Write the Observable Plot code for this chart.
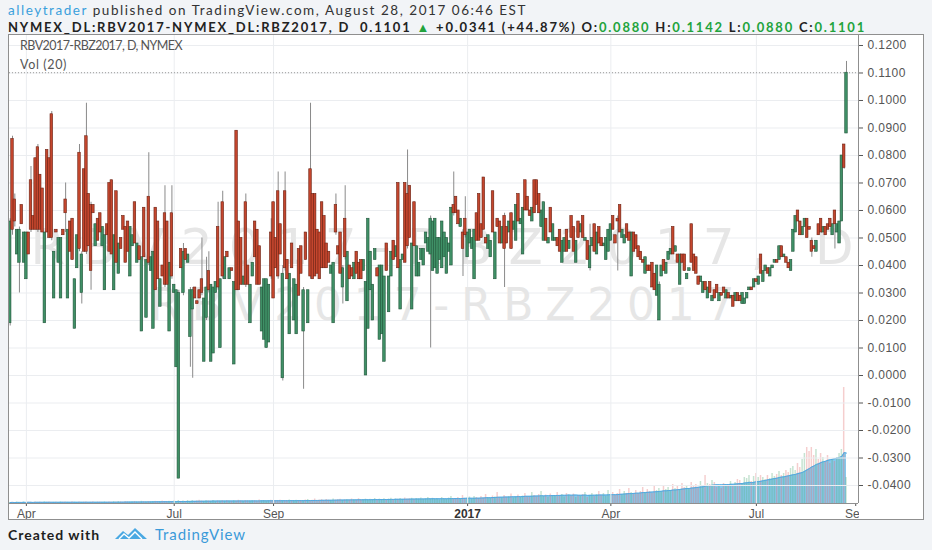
<!DOCTYPE html>
<html><head><meta charset="utf-8">
<script src="https://cdn.jsdelivr.net/npm/d3@7"></script>
<script src="https://cdn.jsdelivr.net/npm/@observablehq/plot@0.6"></script>
<style>
html,body{margin:0;padding:0}
body{width:932px;height:550px;background:#f2f4f7;position:relative;overflow:hidden;font-family:Lato,"Open Sans",sans-serif}
.abs{position:absolute;white-space:nowrap;line-height:1}
#frame{position:absolute;left:8px;top:34px;width:914px;height:484px;border:1px solid #8f8f8f;background:#fff;overflow:hidden}
#frame svg{position:absolute;left:0;top:0}
#vol{z-index:1}#main{z-index:2}
.g{color:#22a33c}
#corner{position:absolute;left:850px;top:469px;width:64px;height:15px;background:#fff;z-index:4}
.lbl{position:absolute;left:11px;color:#555;font-size:12.5px;line-height:1;white-space:nowrap;z-index:3}
g[aria-label="y-axis tick label"] text{letter-spacing:.4px}
</style></head><body>
<div id="h1" class="abs" style="left:8px;top:4px;font-size:13.5px;color:#333"><span style="color:#3aa0dc">alleytrader</span> published on TradingView.com, August 28, 2017 06:46 EST</div>
<div id="h2" class="abs" style="left:8px;top:21px;font-size:13px;font-weight:700;color:#222">NYMEX_DL:RBV2017-NYMEX_DL:RBZ2017, D&nbsp; 0.1101 <span class="g">▲</span> +0.0341 (+44.87%) O:<span class="g">0.0880</span> H:<span class="g">0.1142</span> L:<span class="g">0.0880</span> C:<span class="g">0.1101</span></div>
<div id="frame">
  <div class="lbl" id="l1" style="top:5px">RBV2017-RBZ2017, D, NYMEX</div>
  <div class="lbl" id="l2" style="top:24px">Vol (20)</div>
  <div id="corner"></div>
</div>
<div id="f1" class="abs" style="left:8px;top:528px;font-size:14px;font-weight:700;color:#1e1e1e">Created with</div>
<svg class="abs" style="left:114px;top:526px" width="34" height="16" viewBox="0 0 34 16"><path d="M1 13 L9 5 L14 9 L21 2 L33 13 Z" fill="#4aa8e2"/><path d="M5 13 L10 8 L15 12 L21 6 L28 13" fill="none" stroke="#fff" stroke-width="1.4"/></svg>
<div id="f2" class="abs" style="left:155px;top:527px;font-size:15px;color:#3b9ad9">TradingView</div>
<script>
// ---- candle values [open, close, high?, low?] ----
const spring2016 = [
[.019,.056,.057,.018],[.086,.053,.087,.051],[.064,.056,.066,.054],[.044,.053],[.041,.053,.054,.030],[.062,.055],[.041,.052],[.035,.052],[.052,.044],[.071,.053,.076,.052],
[.058,.053],[.079,.053],[.083,.053,.084,.052],[.073,.053],[.068,.052],[.019,.052],[.082,.052],[.079,.050],[.095,.050,.096,.049],[.028,.045],
[.053,.052],[.041,.050],[.028,.050],[.053,.051],[.064,.059,.070,.052],[.028,.053],[.056,.045],[.057,.042],[.017,.035],[.039,.051],
[.081,.046,.084,.045],[.030,.044,.045,.026],[.075,.045],[.087,.045,.099,.044],[.066,.047],[.062,.038,.063,.031],[.062,.059],[.047,.055],[.057,.049],[.059,.052],
[.047,.054],[.031,.051],[.055,.051]];
const summer2016 = [
[.070,.045],[.071,.044],[.031,.051],[.067,.041],[.037,.048],[.050,.046],[.058,.053],[.054,.041],[.056,.045],[.036,.054],
[.047,.051],[.063,.048],[.041,.048],[.047,.042],[.016,.043],[.061,.043],[.021,.042],[.065,.041,.081,.040],[.038,.043],[.017,.045],
[.061,.031],[.056,.035],[.025,.035],[.040,.036],[.059,.033,.069,.032],[.056,.033],[.016,.041],[.059,.036,.069,.035],[.030,.033],[.003,.031],
[-.0375,.030,.031,-.0375]];
const autumn2016 = [
[.046,.039],[.030,.045,.048,.029],[.046,.042],[.041,.044],[.014,.031,.032,.003],[.024,.031,.032,-.001],[.032,.028],[.027,.026],[.031,.028],[.035,.030,.050,.029],
[.005,.028],[.021,.032,.043,.020],[.038,.031,.045,.030],[.005,.033],[.008,.032],[.030,.034],[.054,.032,.063,.031],[.010,.035],[.063,.036,.067,.035],[.035,.043],
[.045,.043],[.035,.039],[.039,.038],[.004,.034],[.089,.031],[.056,.031],[.050,.033],[.033,.036],[.063,.033,.066,.032],[.040,.033],
[.019,.033],[.036,.041],[.056,.043],[.053,.033],[.047,.033],[.016,.032],[.013,.035],[.010,.035],[.012,.033],[.052,.036,.057,.035],
[.063,.028],[.050,.039],[.067,.036,.074,.035],[.055,.044],[-.001,.037,.040,-.002],[.067,.039,.074,.038],[.042,.035],[.015,.037],[.048,.039],[.020,.035],
[.015,.033],[.046,.029]];
const winter2016 = [
[.047,.037],[.016,.031,.032,-.005],[.052,.042],[.019,.031],[.075,.036,.099,.035],[.066,.035],[.066,.036],[.053,.037],[.052,.035],[.063,.039],
[.058,.039],[.048,.039],[.045,.041],[.037,.040],[.019,.041],[.062,.052,.066,.051],[.047,.044],[.052,.037],[.032,.039,.040,.026],[.057,.043,.069,.042],
[.027,.045],[.040,.035],[.039,.036],[.035,.041],[.045,.037],[.041,.035],[.042,.035],[.038,.042],[.000,.034],[.017,.057],
[.031,.045],[.020,.033],[.042,.046],[.039,.036],[.013,.040],[.015,.040],[.005,.036],[.048,.038],[.023,.036],[.036,.045],
[.049,.042],[.043,.047],[.070,.039],[.024,.042],[.042,.044],[.070,.041],[.066,.047,.082,.046],[.069,.050],[.024,.048],[.063,.047],
[.036,.047],[.036,.041],[.042,.046],[.040,.046],[.048,.052],[.045,.050],[.044,.057,.058,.010],[.038,.056]];
const q1_2017 = [
[.039,.057],[.037,.050],[.042,.050],[.039,.056],[.043,.052],[.037,.050],[.045,.048],[.040,.061],[.062,.059,.074,.058],[.065,.059],
[.060,.055],[.054,.057],[.052,.046,.053,.036],[.057,.051,.065,.050],[.043,.052],[.048,.053],[.046,.050],[.035,.053],[.059,.049],[.066,.049],
[.055,.050],[.072,.053],[.050,.048],[.046,.051],[.043,.049],[.067,.052],[.035,.052],[.057,.054],[.056,.048],[.048,.054],
[.058,.046,.059,.032],[.054,.048],[.052,.056],[.059,.046],[.053,.056],[.049,.062],[.066,.056],[.055,.057],[.044,.061],[.071,.060],
[.065,.060],[.060,.058],[.056,.061],[.071,.059],[.071,.062],[.066,.059],[.054,.060],[.049,.063],[.057,.049],[.048,.050],
[.061,.052],[.049,.055],[.049,.050],[.050,.047],[.053,.045],[.041,.049],[.045,.050],[.053,.045],[.046,.049],[.058,.050],
[.054,.045]];
const q2_2017 = [
[.041,.049],[.056,.050],[.052,.055],[.058,.050],[.049,.050],[.049,.042],[.039,.047,.055,.038],[.047,.050],[.055,.045],[.044,.052],
[.054,.048],[.050,.047],[.047,.048],[.042,.050],[.045,.053],[.049,.055],[.058,.053],[.051,.048],[.057,.056,.058,.038],[.062,.052],
[.050,.053],[.048,.051],[.055,.050],[.052,.049],[.036,.052],[.052,.045],[.051,.046],[.047,.043],[.045,.042],[.042,.041],
[.037,.043],[.040,.038],[.040,.038],[.041,.032],[.037,.031],[.029,.040],[.020,.033,.034,.020],[.036,.040],[.042,.038],[.037,.041],
[.042,.045],[.044,.046],[.054,.044],[.045,.047],[.044,.041],[.033,.044],[.044,.041],[.044,.038],[.035,.037],[.038,.039],
[.055,.041],[.044,.038],[.043,.037],[.036,.033],[.034,.036],[.030,.034],[.034,.031],[.028,.032],[.034,.030],[.027,.029],
[.031,.028]];
const summer2017 = [
[.033,.030],[.027,.030],[.030,.029],[.032,.030],[.028,.031],[.030,.028],[.028,.029],[.029,.025],[.027,.030],[.030,.027],
[.029,.027],[.026,.030],[.026,.028],[.028,.030],[.031,.032],[.032,.031],[.032,.035],[.035,.034],[.033,.036],[.044,.037],
[.034,.038],[.038,.040],[.039,.037],[.036,.039],[.039,.040],[.041,.042],[.042,.041],[.042,.047],[.047,.043],[.043,.044],
[.043,.041],[.041,.039],[.038,.042],[.045,.053],[.052,.058],[.060,.056],[.056,.051],[.051,.054],[.054,.057],[.057,.050],
[.054,.053],[.049,.045,.050,.043],[.047,.046],[.045,.049],[.055,.051],[.057,.052],[.052,.054],[.054,.051],[.055,.053],[.057,.054],
[.051,.055],[.060,.055,.060,.046],[.052,.055],[.048,.056],[.056,.080,.080,.056],[.084,.0755,.084,.075],[.088,.1101,.1142,.088]];

// ---- volume (contracts) ----
const volSpring2016 = [10,12,8,15,11,9,14,10,13,12,9,15,11,13,10,16,12,14,9,11,13,10,15,12,14,11,9,16,12,10,14,11,13,15,10,12,16,11,14,13,12,15,11];
const volSummer2016 = [15,12,18,14,20,16,12,18,15,13,17,20,14,16,22,18,15,20,17,19,21,16,18,24,20,17,22,19,25,20,30];
const volAutumn2016 = [20,25,18,30,22,28,20,26,32,24,20,28,25,22,30,18,26,24,28,22,30,25,20,28,24,32,26,22,30,27,25,30,28,22,35,26,30,24,28,32,27,30,25,33,28,24,30,35,26,29,32,28];
const volWinter2016 = [30,25,35,40,28,32,45,30,35,38,28,40,33,30,45,35,38,42,30,36,40,34,45,38,32,48,36,40,44,35,42,38,50,36,44,40,48,35,45,52,38,46,42,50,40,55,44,48,52,40,50,45,55,42,48,60,46,52];
const volQ1_2017 = [40,50,35,60,45,40,55,70,45,50,60,45,80,50,55,65,40,70,60,50,70,55,90,60,50,75,65,110,60,55,80,60,70,95,55,65,85,60,75,100,70,60,110,80,65,90,120,70,85,60,95,75,80,110,70,90,65,100,85,75,95];
const volQ2_2017 = [60,80,70,90,110,60,80,100,70,90,120,80,100,70,130,90,110,80,100,140,90,120,100,150,110,90,130,100,120,160,110,140,120,100,170,130,150,120,180,140,160,130,190,150,170,140,200,160,180,150,210,170,190,160,220,180,280,200,190,230,210];
const volSummer2017 = [160,180,150,200,170,190,220,180,210,240,230,200,260,250,280,220,270,300,260,280,260,240,280,250,300,270,290,320,280,300,330,310,350,370,330,400,360,440,500,560,520,560,480,540,440,500,460,420,480,400,440,420,460,500,540,1160,260];

// ---- calendar & ticks ----
const lastDate = "2017-08-28";
const holidays = ["2016-03-25","2016-05-30","2016-07-04","2016-09-05","2016-11-24","2016-12-26","2017-01-02","2017-01-16","2017-02-20","2017-04-14","2017-05-29","2017-07-04"];
const xTickMonths = ["2016-04","2016-07","2016-09","2017-01","2017-04","2017-07","2017-09"];
const xTickLabels = ["Apr","Jul","Sep","2017","Apr","Jul","Sep"];
const yTicks = [-0.04,-0.03,-0.02,-0.01,0,0.01,0.02,0.03,0.04,0.05,0.06,0.07,0.08,0.09,0.10,0.11,0.12];
const watermark = ["RBV2017-RBZ2017, D", "RBV2017-RBZ2017"];

const rows = [].concat(spring2016, summer2016, autumn2016, winter2016, q1_2017, q2_2017, summer2017);
const volumes = [].concat(volSpring2016, volSummer2016, volAutumn2016, volWinter2016, volQ1_2017, volQ2_2017, volSummer2017);
const N = rows.length;
const candles = rows.map(([o, c, h, l], i) => ({i, o, c, h: h ?? Math.max(o, c), l: l ?? Math.min(o, c)}));

const hol = new Set(holidays);
const iso = dt => dt.toISOString().slice(0, 10);
const isTrading = dt => { const wd = dt.getUTCDay(); return wd !== 0 && wd !== 6 && !hol.has(iso(dt)); };
const past = [];
for (let dt = new Date(lastDate + "T00:00:00Z"); past.length < N; dt.setUTCDate(dt.getUTCDate() - 1)) if (isTrading(dt)) past.unshift(iso(dt));
const future = [];
for (let dt = new Date(lastDate + "T00:00:00Z"); future.length < 8;) { dt.setUTCDate(dt.getUTCDate() + 1); if (isTrading(dt)) future.push(iso(dt)); }
const dates = past.concat(future);
const tickIdx = xTickMonths.map(m => dates.findIndex(s => s.slice(0, 7) === m));
const labelAt = new Map(tickIdx.map((t, k) => [t, xTickLabels[k]]));

const W = 914, H = 484;
const common = {width: W, height: H, marginLeft: 0, marginRight: 65, marginTop: 0, marginBottom: 16};
const xDomain = [N - 363.3, N + 4.2];
const yDomain = [-0.046545, 0.123636];
const bw = 0.55;
const up = candles.filter(d => d.c >= d.o), down = candles.filter(d => d.c < d.o);

const volData = volumes.map((v, i) => ({i, v, up: candles[i] ? candles[i].c >= candles[i].o : true}));
const volPlot = Plot.plot({
  ...common,
  style: {background: "transparent"},
  x: {type: "linear", domain: xDomain, axis: null, label: null},
  y: {domain: [0, 4680], axis: null, label: null},
  marks: [
    Plot.areaY(volData, Plot.windowY({k: 20, anchor: "end"}, {x: "i", y: "v", fill: "#86c8ec"})),
    Plot.rect(volData.filter(d => d.up), {x1: d => d.i - 0.32, x2: d => d.i + 0.32, y1: 0, y2: "v", fill: "#58b07a", fillOpacity: 0.35}),
    Plot.rect(volData.filter(d => !d.up), {x1: d => d.i - 0.32, x2: d => d.i + 0.32, y1: 0, y2: "v", fill: "#e27474", fillOpacity: 0.35}),
    Plot.lineY(volData, Plot.windowY({k: 20, anchor: "end"}, {x: "i", y: "v", stroke: "#52a8e0", strokeWidth: 1}))
  ]
});
volPlot.id = "vol";

const mainPlot = Plot.plot({
  ...common,
  style: {background: "transparent", color: "#555", fontFamily: "'Liberation Sans', Arial, sans-serif", overflow: "visible"},
  x: {type: "linear", domain: xDomain, label: null},
  y: {domain: yDomain, label: null},
  marks: [
    Plot.ruleY(yTicks, {stroke: "#ebedf0"}),
    Plot.ruleX(tickIdx.slice(0, 6), {stroke: "#ebedf0"}),
    Plot.text([watermark[0]], {frameAnchor: "top", dx: 8, dy: 228, lineAnchor: "bottom", fontSize: 50, fill: "#e6e6e6", fontFamily: "DejaVu Sans"}),
    Plot.text([watermark[1]], {frameAnchor: "top", dx: 8, dy: 284, lineAnchor: "bottom", fontSize: 44, fill: "#e6e6e6", fontFamily: "DejaVu Sans"}),
    Plot.ruleY([candles[N - 1].c], {stroke: "#9a9a9a", strokeDasharray: "1,2"}),
    Plot.ruleX(candles, {x: "i", y1: "l", y2: "h", stroke: "#8a8a8a", strokeWidth: 1}),
    Plot.rect(up, {x1: d => d.i - bw, x2: d => d.i + bw, y1: "o", y2: "c", fill: "#3f9066", stroke: "#24583d", strokeWidth: 0.6}),
    Plot.rect(down, {x1: d => d.i - bw, x2: d => d.i + bw, y1: "o", y2: "c", fill: "#c4462e", stroke: "#6e2415", strokeWidth: 0.6}),
    Plot.axisY(yTicks, {anchor: "right", tickFormat: d => d.toFixed(4), tickSize: 4, tickPadding: 5, fontSize: 12, label: null}),
    Plot.axisX(tickIdx, {anchor: "bottom", tickFormat: d => labelAt.get(d), tickSize: 3, tickPadding: 3, fontSize: 12, label: null}),
    Plot.ruleX([xDomain[1]], {stroke: "#8f8f8f"}),
    Plot.ruleY([yDomain[0]], {stroke: "#8f8f8f"})
  ]
});
mainPlot.id = "main";

const frame = document.getElementById("frame");
frame.appendChild(volPlot);
frame.appendChild(mainPlot);

// watermark widths and bold year label
const wmLen = {"RBV2017-RBZ2017, D": 823, "RBV2017-RBZ2017": 585};
mainPlot.querySelectorAll("text").forEach(t => {
  const s = t.textContent;
  if (wmLen[s]) t.setAttribute("textLength", wmLen[s]);
  if (s === "2017") { t.setAttribute("font-weight", "bold"); t.setAttribute("fill", "#333"); }
});

function fit(id, target) {
  const el = document.getElementById(id);
  const n = el.textContent.length;
  const w = el.getBoundingClientRect().width;
  el.style.letterSpacing = ((target - w) / n) + "px";
}
fit("h1", 519); fit("h2", 858); fit("l1", 162); fit("l2", 47); fit("f1", 92); fit("f2", 91);
</script>
</body></html>
